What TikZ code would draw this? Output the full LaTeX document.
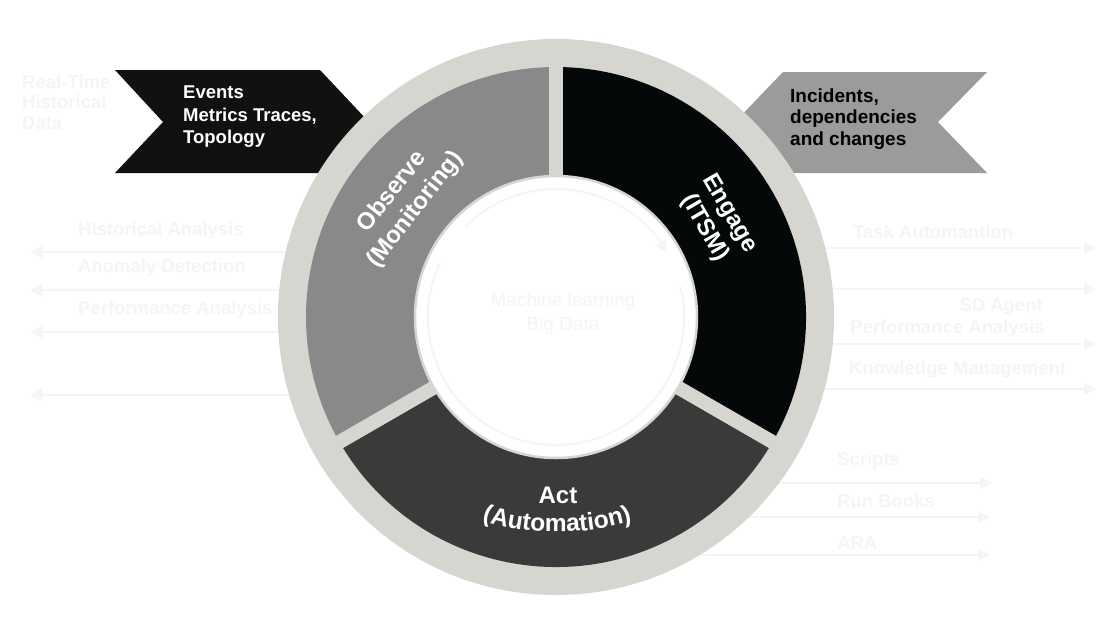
\documentclass[tikz,border=0pt]{standalone}
\usepackage{fontspec}
\setmainfont{Liberation Sans}
\usetikzlibrary{arrows.meta,decorations.text}
\definecolor{ringgray}{RGB}{214,213,208}
\definecolor{observegray}{RGB}{136,138,137}
\definecolor{engageblack}{RGB}{5,8,8}
\definecolor{actgray}{RGB}{58,58,58}
\definecolor{bannerblack}{RGB}{17,17,17}
\definecolor{bannergray}{RGB}{154,156,155}
\definecolor{faintgray}{RGB}{245,245,245}
\definecolor{faintpink}{RGB}{248,244,244}
\tikzset
{
  ringlabel/.style  = {text=white, align=center, inner sep=0pt, font=\bfseries\fontsize{24}{29}\selectfont},
  bannertext/.style = {align=left, inner sep=0pt, anchor=west, font=\bfseries\fontsize{18.5}{22.5}\selectfont},
  fainttext/.style  = {text=faintgray, align=left, inner sep=0pt, anchor=west, font=\bfseries\fontsize{18.5}{20.5}\selectfont},
  faintarrow/.style = {draw=faintgray, line width=2pt, -{Triangle[length=12pt,width=12pt]}}
}
\begin{document}
\begin{tikzpicture}[x=1pt,y=1pt]
  \useasboundingbox[fill=white] (-556,-305) rectangle (560,317);

  % faint texts and arrows behind the ring
  \node[fainttext] (realtime) at (-534,215) {Real-Time\\Historical\\Data};
  \node[fainttext] (histan)   at (-478,86) {Historical Analysis};
  \node[fainttext] (anomaly)  at (-478,49) {Anomaly Detection};
  \node[fainttext] (perfleft) at (-478,7)  {Performance Analysis};
  \coordinate (l1s) at (-256,65);  \coordinate (l1e) at (-526,65);
  \coordinate (l2s) at (-256,27);  \coordinate (l2e) at (-526,27);
  \coordinate (l3s) at (-256,-15); \coordinate (l3e) at (-526,-15);
  \coordinate (l4s) at (-256,-78); \coordinate (l4e) at (-526,-78);
  \draw[faintarrow] (l1s) -- (l1e);
  \draw[faintarrow] (l2s) -- (l2e);
  \draw[faintarrow] (l3s) -- (l3e);
  \draw[faintarrow] (l4s) -- (l4e);

  \node[fainttext, text=faintpink] (taskauto)  at (297,85)  {Task Automantion};
  \node[fainttext, text=faintpink, anchor=east] (sdagent) at (487,10) {SD Agent};
  \node[fainttext, text=faintpink] (perfright) at (294,-12) {Performance Analysis};
  \node[fainttext, text=faintpink] (knowledge) at (293,-53) {Knowledge Management};
  \coordinate (r1s) at (250,69);  \coordinate (r1e) at (540,69);
  \coordinate (r2s) at (250,28);  \coordinate (r2e) at (540,28);
  \coordinate (r3s) at (250,-27); \coordinate (r3e) at (540,-27);
  \coordinate (r4s) at (250,-72); \coordinate (r4e) at (540,-72);
  \draw[faintarrow, draw=faintpink] (r1s) -- (r1e);
  \draw[faintarrow, draw=faintpink] (r2s) -- (r2e);
  \draw[faintarrow, draw=faintpink] (r3s) -- (r3e);
  \draw[faintarrow, draw=faintpink] (r4s) -- (r4e);

  \node[fainttext, text=faintpink] (scripts)  at (281,-144) {Scripts};
  \node[fainttext, text=faintpink] (runbooks) at (281,-184) {Run Books};
  \node[fainttext, text=faintpink] (ara)      at (281,-226) {ARA};
  \coordinate (b1s) at (100,-166); \coordinate (b1e) at (436,-166);
  \coordinate (b2s) at (100,-200); \coordinate (b2e) at (434,-200);
  \coordinate (b3s) at (100,-238); \coordinate (b3e) at (434,-238);
  \draw[faintarrow, draw=faintpink] (b1s) -- (b1e);
  \draw[faintarrow, draw=faintpink] (b2s) -- (b2e);
  \draw[faintarrow, draw=faintpink] (b3s) -- (b3e);

  % banners
  \fill[bannerblack] (-441,247) -- (-236,247) -- (-188,196) -- (-236,144) -- (-441,144) -- (-393,195) -- cycle;
  \fill[bannergray] (227,245) -- (431,245) -- (382,195) -- (431,144) -- (227,144) -- (179,195) -- cycle;
  \node[bannertext, text=white] (events) at (-373,200) {Events\\Metrics Traces,\\Topology};
  \node[bannertext, text=black, font=\bfseries\fontsize{19}{21.5}\selectfont] (incidents) at (234,198) {Incidents,\\dependencies\\and changes};

  % ring
  \fill[ringgray] (0,0) circle (278);
  \fill[observegray] (0,0) -- (90:250) arc (90:210:250) -- cycle;
  \fill[actgray] (0,0) -- (210:250) arc (210:330:250) -- cycle;
  \fill[engageblack] (0,0) -- (-30:250) arc (-30:90:250) -- cycle;
  \draw[ringgray, line width=14] (0,0) -- (90:262);
  \draw[ringgray, line width=14] (0,0) -- (210:262);
  \draw[ringgray, line width=14] (0,0) -- (330:262);
  \draw[ringgray, line width=2.5, fill=white] (0,0) circle (141);

  % centre
  \draw[faintgray, line width=2, -{Triangle[length=12pt,width=11pt]}] (135:128) arc (135:30:128);
  \draw[faintgray, line width=2] (14:128) arc (14:-205:128);
  \node[text=faintpink, align=center, inner sep=0pt, font=\fontsize{19}{24}\selectfont] (mlcentre) at (7,3) {Machine learning\\Big Data};

  % labels
  \node[ringlabel, rotate=52]  (observe) at (-152,116) {Observe\\(Monitoring)};
  \node[ringlabel, rotate=-60] (engage)  at (161,96)   {Engage\\(ITSM)};
  \node[ringlabel] (act) at (2,-178) {Act};
  \path[decorate, decoration={text along path, text align=center,
        text={|\bfseries\fontsize{24.5}{29}\selectfont\color{white}|(Automation)}}]
    (1,45) ++(240:260) arc (240:300:260);
\end{tikzpicture}
\end{document}
